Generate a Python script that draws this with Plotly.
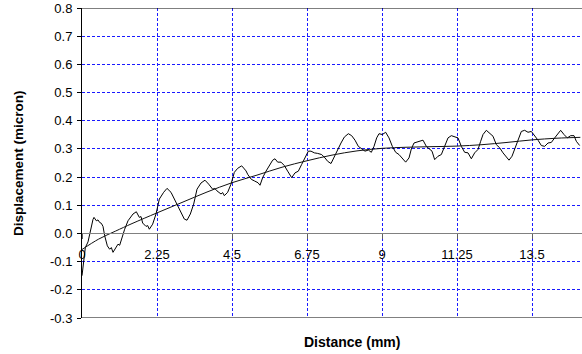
import plotly.graph_objects as go

# Measured displacement (noisy trace)
x_measured = [0.00, 0.05, 0.10, 0.18, 0.26, 0.33, 0.36, 0.43, 0.48, 0.53, 0.58, 0.63, 0.68, 0.76, 0.83, 0.88,
              0.93, 1.00, 1.08, 1.13, 1.18, 1.28, 1.38, 1.53, 1.63, 1.72, 1.77, 1.82, 1.92, 1.97, 2.02, 2.12,
              2.22, 2.32, 2.45, 2.55, 2.67, 2.77, 2.87, 2.97, 3.07, 3.15, 3.25, 3.35, 3.45, 3.57, 3.69, 3.80,
              3.92, 3.98, 4.05, 4.17, 4.22, 4.27, 4.37, 4.47, 4.57, 4.67, 4.79, 4.85, 4.92, 4.975, 5.08, 5.18,
              5.28, 5.34, 5.42, 5.52, 5.62, 5.72, 5.79, 5.87, 5.97, 6.07, 6.17, 6.29, 6.39, 6.49, 6.59, 6.69,
              6.79, 6.87, 6.97, 7.07, 7.19, 7.29, 7.37, 7.47, 7.57, 7.67, 7.77, 7.87, 7.99, 8.09, 8.19, 8.29,
              8.39, 8.49, 8.59, 8.68, 8.76, 8.84, 8.91, 9.01, 9.11, 9.21, 9.31, 9.41, 9.51, 9.61, 9.71, 9.81,
              9.88, 9.96, 10.06, 10.16, 10.23, 10.33, 10.43, 10.50, 10.58, 10.68, 10.78, 10.88, 10.98, 11.08,
              11.18, 11.28, 11.38, 11.48, 11.58, 11.68, 11.78, 11.88, 11.96, 12.03, 12.13, 12.23, 12.33, 12.43,
              12.53, 12.63, 12.73, 12.81, 12.90, 13.00, 13.08, 13.18, 13.28, 13.38, 13.48, 13.58, 13.68, 13.78,
              13.88, 13.98, 14.08, 14.18, 14.26, 14.36, 14.46, 14.56, 14.66, 14.76, 14.83, 14.93]
y_measured = [-0.150, -0.090, -0.050, -0.030, 0.015, 0.050, 0.057, 0.045, 0.048, 0.039, 0.036, 0.025, -0.008,
              -0.044, -0.056, -0.050, -0.067, -0.053, -0.038, -0.042, -0.020, 0.015, 0.045, 0.069, 0.077, 0.057,
              0.060, 0.037, 0.025, 0.028, 0.015, 0.033, 0.069, 0.122, 0.146, 0.160, 0.146, 0.122, 0.098, 0.069,
              0.051, 0.047, 0.069, 0.104, 0.157, 0.179, 0.189, 0.175, 0.157, 0.160, 0.151, 0.140, 0.145, 0.134,
              0.146, 0.175, 0.217, 0.231, 0.240, 0.232, 0.222, 0.209, 0.192, 0.186, 0.180, 0.171, 0.198, 0.221,
              0.239, 0.260, 0.265, 0.253, 0.253, 0.241, 0.221, 0.198, 0.215, 0.221, 0.245, 0.268, 0.292, 0.292,
              0.286, 0.284, 0.280, 0.268, 0.256, 0.248, 0.274, 0.298, 0.321, 0.342, 0.354, 0.347, 0.331, 0.309,
              0.300, 0.292, 0.296, 0.288, 0.309, 0.339, 0.354, 0.351, 0.359, 0.339, 0.309, 0.288, 0.280, 0.265,
              0.253, 0.268, 0.300, 0.321, 0.325, 0.327, 0.331, 0.309, 0.300, 0.292, 0.262, 0.274, 0.280, 0.309,
              0.339, 0.347, 0.342, 0.339, 0.309, 0.288, 0.286, 0.265, 0.286, 0.298, 0.327, 0.351, 0.366, 0.356,
              0.345, 0.315, 0.304, 0.286, 0.272, 0.260, 0.274, 0.304, 0.327, 0.362, 0.366, 0.359, 0.362, 0.347,
              0.331, 0.312, 0.309, 0.321, 0.323, 0.339, 0.351, 0.366, 0.351, 0.339, 0.347, 0.347, 0.327, 0.312]

# Fitted trend line
x_trend = [0.0, 0.5, 1.0, 1.5, 2.25, 3.0, 3.75, 4.5, 5.25, 6.0, 6.75, 7.5, 8.25, 9.0, 9.75,
           10.5, 11.25, 12.0, 12.75, 13.5, 14.25, 14.95]
y_trend = [-0.057, -0.020, 0.008, 0.035, 0.073, 0.110, 0.147, 0.180, 0.207, 0.235, 0.258, 0.278,
           0.293, 0.302, 0.306, 0.308, 0.310, 0.315, 0.323, 0.332, 0.338, 0.341]

x_tick_vals = [0, 2.25, 4.5, 6.75, 9, 11.25, 13.5]
x_tick_text = ["0", "2.25", "4.5", "6.75", "9", "11.25", "13.5"]
y_tick_vals = [-0.3, -0.2, -0.1, 0.0, 0.1, 0.2, 0.3, 0.4, 0.5, 0.6, 0.7, 0.8]
y_tick_text = ["-0.3", "-0.2", "-0.1", "0.0", "0.1", "0.2", "0.3", "0.4", "0.5", "0.6", "0.7", "0.8"]

FONT = "Liberation Sans, Arial, sans-serif"
GRID = "#1a1aff"

fig = go.Figure()
fig.add_trace(go.Scatter(x=x_measured, y=y_measured, mode="lines",
                         line=dict(color="#000000", width=1), showlegend=False))
fig.add_trace(go.Scatter(x=x_trend, y=y_trend, mode="lines",
                         line=dict(color="#111111", width=1, shape="spline"), showlegend=False))

fig.update_layout(
    width=582, height=354,
    margin=dict(l=82, r=0, t=8, b=36),
    paper_bgcolor="white", plot_bgcolor="white",
    font=dict(family=FONT, size=13, color="#000000"),
    xaxis=dict(range=[0, 15], anchor="free", position=0.3 / 1.1,
               showline=True, linecolor="#808080", linewidth=1,
               ticks="outside", ticklen=5, tickcolor="#606060", tickwidth=1,
               tickvals=x_tick_vals, ticktext=x_tick_text, ticklabelstandoff=4,
               showgrid=True, gridcolor=GRID, gridwidth=1, griddash="3px,2px",
               zeroline=False, tickfont=dict(size=13)),
    yaxis=dict(range=[-0.3, 0.8], showline=True, linecolor="#000000", linewidth=1,
               ticks="outside", ticklen=4, tickcolor="#000000",
               tickvals=y_tick_vals, ticktext=y_tick_text, ticklabelstandoff=2,
               showgrid=True, gridcolor=GRID, gridwidth=1, griddash="3px,2px",
               zeroline=False, tickfont=dict(size=13)),
    shapes=[
        dict(type="line", xref="paper", yref="y", x0=0, x1=1, y0=0.8, y1=0.8,
             line=dict(color="#000000", width=1)),
        dict(type="line", xref="paper", yref="y", x0=0, x1=1, y0=-0.3, y1=-0.3,
             line=dict(color="#000000", width=1)),
    ],
    annotations=[
        dict(text="<b>Displacement (micron)</b>", xref="paper", yref="paper",
             x=(18 - 82) / 500, y=0.5, textangle=-90, showarrow=False,
             xanchor="center", yanchor="middle", font=dict(size=13.5)),
        dict(text="<b>Distance (mm)</b>", xref="paper", yref="paper",
             x=(352 - 82) / 500, y=(318 - 342) / 310, showarrow=False,
             xanchor="center", yanchor="middle", font=dict(size=14)),
    ],
)

fig.write_html("out.html")
